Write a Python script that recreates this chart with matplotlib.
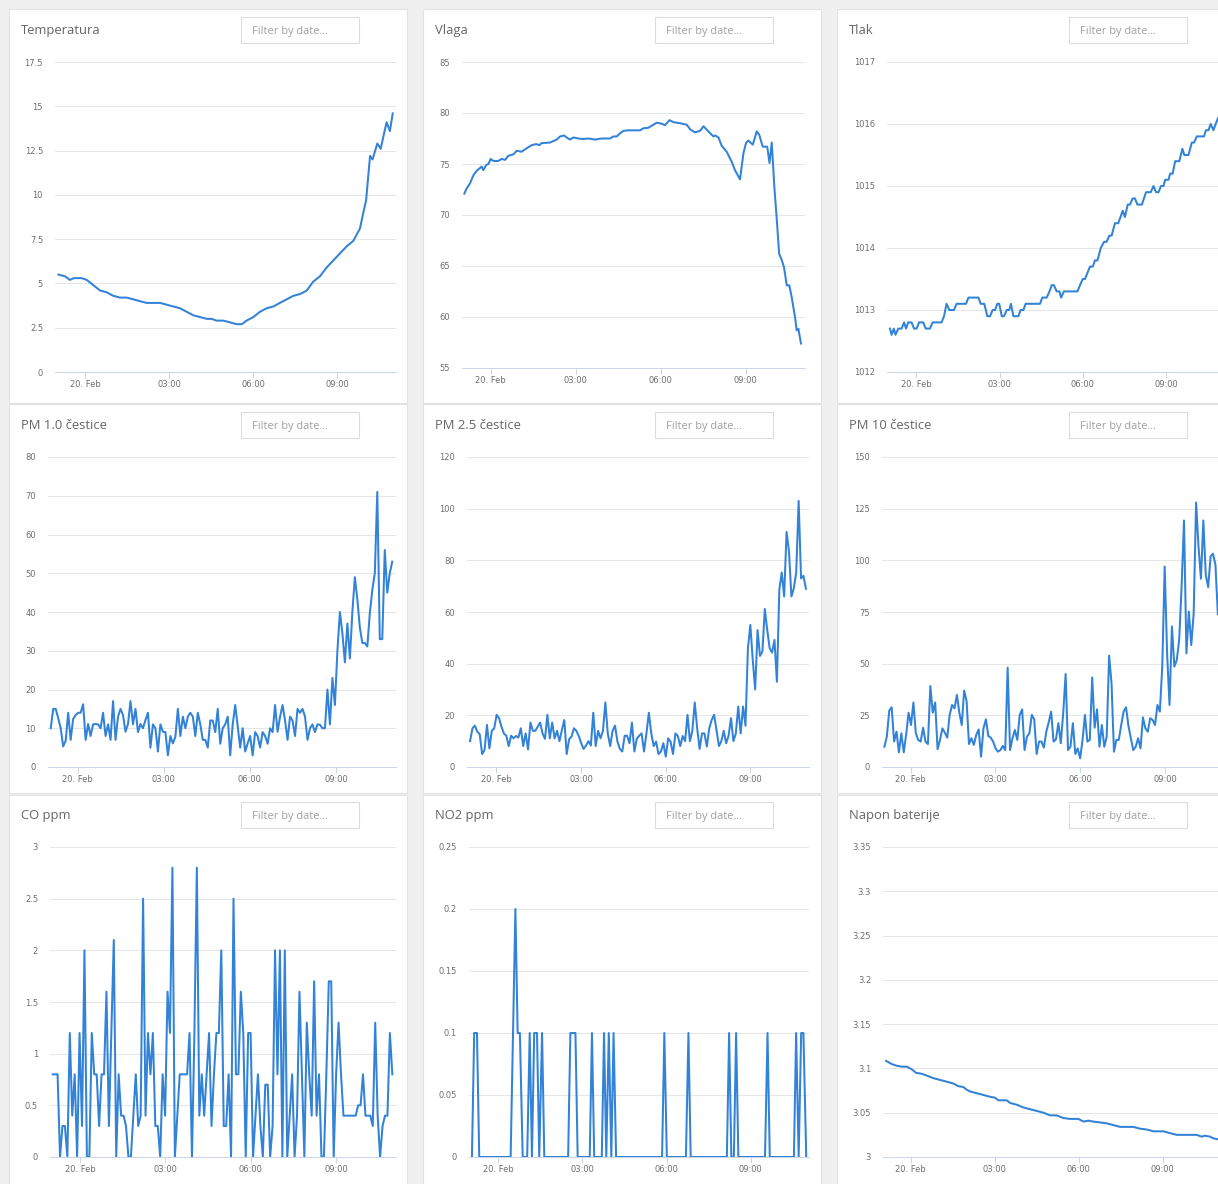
import numpy as np
import matplotlib
matplotlib.use("Agg")
import matplotlib.pyplot as plt
from matplotlib.patches import Rectangle
from matplotlib.ticker import FuncFormatter

# ---------------- data (hours relative to 20 Feb 00:00) ----------------
tick_hours = [0, 3, 6, 9]
tick_labels = ["20. Feb", "03:00", "06:00", "09:00"]

temp_hours = [-0.95, -0.71, -0.54, -0.39, -0.12, 0.06, 0.30, 0.54, 0.77, 1.01,
              1.25, 1.49, 1.73, 1.96, 2.20, 2.68, 2.92, 3.15, 3.39, 3.63,
              3.87, 4.11, 4.35, 4.52, 4.70, 4.94, 5.18, 5.42, 5.60, 5.77,
              6.01, 6.25, 6.49, 6.73, 6.96, 7.20, 7.44, 7.68, 7.92, 8.15,
              8.39, 8.63, 8.87, 9.11, 9.35, 9.58, 9.82, 9.94, 10.04, 10.18,
              10.27, 10.44, 10.56, 10.77, 10.89, 10.99]
temp_values = [5.5, 5.4, 5.2, 5.3, 5.3, 5.2, 4.9, 4.6, 4.5, 4.3,
               4.2, 4.2, 4.1, 4.0, 3.9, 3.9, 3.8, 3.7, 3.6, 3.4,
               3.2, 3.1, 3.0, 3.0, 2.9, 2.9, 2.8, 2.7, 2.7, 2.9,
               3.1, 3.4, 3.6, 3.7, 3.9, 4.1, 4.3, 4.4, 4.6, 5.1,
               5.4, 5.9, 6.3, 6.7, 7.1, 7.4, 8.1, 9.0, 9.7, 12.2,
               12.0, 12.9, 12.6, 14.1, 13.6, 14.6]

hum_hours = [-0.93, -0.85, -0.73, -0.61, -0.49, -0.38, -0.32, -0.26, -0.16, -0.08,
             0.00, 0.09, 0.27, 0.39, 0.51, 0.62, 0.80, 0.92, 1.09, 1.27,
             1.45, 1.60, 1.72, 1.80, 2.09, 2.33, 2.45, 2.59, 2.68, 2.80,
             2.92, 3.09, 3.27, 3.45, 3.68, 3.92, 4.21, 4.33, 4.45, 4.56,
             4.68, 4.86, 4.98, 5.27, 5.39, 5.56, 5.68, 5.86, 6.04, 6.15,
             6.31, 6.45, 6.68, 6.92, 7.04, 7.21, 7.39, 7.51, 7.68, 7.86,
             7.92, 8.04, 8.15, 8.33, 8.51, 8.62, 8.80, 8.92, 9.01, 9.09,
             9.25, 9.39, 9.48, 9.60, 9.76, 9.84, 9.92, 10.01, 10.09, 10.18,
             10.27, 10.35, 10.45, 10.54, 10.62, 10.74, 10.80, 10.86, 10.95]
hum_values = [72.1, 72.6, 73.1, 73.9, 74.35, 74.6, 74.75, 74.4, 74.9, 75.0,
              75.5, 75.3, 75.3, 75.5, 75.4, 75.8, 75.95, 76.3, 76.2, 76.55,
              76.85, 76.95, 76.85, 77.05, 77.1, 77.4, 77.7, 77.8, 77.6, 77.4,
              77.6, 77.5, 77.45, 77.5, 77.4, 77.5, 77.5, 77.7, 77.7, 78.0,
              78.25, 78.3, 78.3, 78.3, 78.5, 78.55, 78.75, 79.05, 78.95, 78.8,
              79.3, 79.1, 79.0, 78.85, 78.4, 78.1, 78.25, 78.7, 78.2, 77.7,
              77.8, 77.6, 76.8, 76.2, 75.2, 74.4, 73.5, 76.05, 77.05, 77.3,
              76.9, 78.2, 77.85, 76.7, 76.7, 75.1, 77.1, 72.8, 69.85, 66.2,
              65.6, 64.9, 63.1, 63.1, 62.0, 60.0, 58.7, 58.85, 57.4]

pres_hours = [-0.95, -0.89, -0.81, -0.75, -0.65, -0.53, -0.44, -0.37, -0.29, -0.17,
              -0.08, 0.01, 0.10, 0.25, 0.34, 0.49, 0.59, 0.91, 1.00, 1.09,
              1.19, 1.36, 1.45, 1.79, 1.88, 2.24, 2.32, 2.45, 2.56, 2.66,
              2.75, 2.84, 2.92, 2.99, 3.08, 3.16, 3.26, 3.35, 3.41, 3.50,
              3.68, 3.76, 3.86, 3.94, 4.46, 4.54, 4.70, 4.80, 4.88, 4.96,
              5.06, 5.16, 5.22, 5.32, 5.81, 5.90, 6.00, 6.08, 6.26, 6.36,
              6.44, 6.53, 6.65, 6.77, 6.86, 6.96, 7.04, 7.16, 7.28, 7.44,
              7.52, 7.62, 7.70, 7.80, 7.88, 7.97, 8.13, 8.28, 8.45, 8.55,
              8.64, 8.73, 8.82, 8.91, 8.97, 9.09, 9.15, 9.24, 9.33, 9.48,
              9.59, 9.66, 9.81, 9.93, 10.01, 10.11, 10.37, 10.44, 10.53, 10.61,
              10.71, 10.79, 10.88]
pres_values = [1012.7, 1012.6, 1012.7, 1012.6, 1012.7, 1012.7, 1012.8, 1012.7, 1012.8, 1012.8,
               1012.7, 1012.7, 1012.8, 1012.8, 1012.7, 1012.7, 1012.8, 1012.8, 1012.9, 1013.1,
               1013.0, 1013.0, 1013.1, 1013.1, 1013.2, 1013.2, 1013.1, 1013.1, 1012.9, 1012.9,
               1013.0, 1013.0, 1013.1, 1013.1, 1012.9, 1012.9, 1013.0, 1013.0, 1013.1, 1012.9,
               1012.9, 1013.0, 1013.0, 1013.1, 1013.1, 1013.2, 1013.2, 1013.3, 1013.4, 1013.4,
               1013.3, 1013.3, 1013.2, 1013.3, 1013.3, 1013.4, 1013.5, 1013.5, 1013.7, 1013.7,
               1013.8, 1013.8, 1014.0, 1014.1, 1014.1, 1014.2, 1014.2, 1014.4, 1014.4, 1014.6,
               1014.5, 1014.7, 1014.7, 1014.8, 1014.8, 1014.7, 1014.7, 1014.9, 1014.9, 1015.0,
               1014.9, 1014.9, 1015.0, 1015.0, 1015.1, 1015.1, 1015.2, 1015.2, 1015.4, 1015.4,
               1015.6, 1015.5, 1015.5, 1015.7, 1015.7, 1015.8, 1015.8, 1015.9, 1015.9, 1016.0,
               1015.9, 1016.0, 1016.1]

pm1_span = (-0.94, 10.96)
pm1_values = [10, 15, 15, 12.6, 10, 5.3, 6.8, 14, 7, 12.4,
              13.4, 14, 14, 16.2, 7, 11.1, 8, 11, 11.1, 11,
              10, 14, 8, 11, 7, 17, 7, 13, 15, 13.4,
              9.1, 11.1, 17, 11, 15, 9, 11.1, 10, 12.1, 14,
              5, 11, 10, 4, 11, 9.1, 9, 3, 8, 6.1,
              7.8, 15, 8, 13, 10, 13, 14, 13, 8, 14,
              11, 7, 7, 5, 12, 12, 9, 15, 6, 10,
              11, 13, 3, 11, 16, 10.4, 5, 10, 4, 6.1,
              8, 3, 9, 8, 5, 9, 8, 6, 10, 9,
              16, 9.1, 13, 16, 12, 7, 13, 12, 8, 15,
              14, 15, 13, 7, 10, 11, 9, 11, 10.9, 10,
              10, 20, 11, 23, 16, 30, 40, 34.5, 27, 37,
              28, 40, 49, 43.2, 36, 32, 32, 31.1, 39.7, 45.7,
              50, 71, 33, 33, 56, 45, 50, 53]

pm25_span = (-0.93, 10.97)
pm25_values = [10, 15, 16, 13.7, 12.7, 5, 6.6, 16.3, 7.2, 14,
               15, 20.2, 18.9, 15.6, 13, 12.1, 8.1, 12.1, 11.1, 12,
               11.4, 15, 8.1, 13, 6.8, 17.2, 14, 14, 15.6, 17.2,
               13, 10.9, 20.2, 11.1, 17.2, 11.1, 14, 10, 14.3, 18.2,
               5, 10.7, 11.8, 15, 14, 12, 9.2, 7, 8.3, 10,
               8.3, 21, 8.1, 14, 11.1, 14, 25, 13, 8.1, 14,
               16, 9.8, 7, 6, 12.1, 12.1, 9.2, 17.2, 6, 10.9,
               12.1, 13, 6, 13, 21, 13, 8.1, 9.8, 5, 6,
               9.2, 4, 11.1, 9.8, 5, 13, 12, 8.1, 12, 10,
               20.2, 10, 14, 25, 15, 7, 13, 13, 7.9, 15,
               18.2, 20.2, 14.3, 8.1, 10, 14, 9.2, 12.1, 18.9, 10,
               13, 23.4, 13, 23.4, 16, 46, 55, 41.5, 30, 53,
               43, 44.7, 61.2, 53, 46, 44.3, 49.2, 33, 68.6, 75.3,
               66, 91, 83.5, 66, 69.2, 75.4, 103, 73, 74, 69]

pm10_span = (-0.93, 10.87)
pm10_values = [9.8, 14.7, 27.3, 28.9, 12.3, 17.1, 7.1, 16.3, 7.1, 15.8,
               26.3, 20.3, 31.2, 16.3, 13.1, 12.3, 19, 12.3, 11.1, 39.2,
               26.3, 31.2, 8.6, 13.1, 18.7, 16.6, 14.2, 25.2, 30, 28.4,
               34.9, 26.3, 20.3, 37, 32, 11.1, 13.9, 10.7, 15.5, 18.2,
               5, 18.7, 23.1, 15, 14.2, 12.3, 9, 7.4, 8.2, 10.2,
               8.2, 48.1, 8.2, 13.9, 17.9, 13.1, 25.2, 27.9, 8.2, 14.7,
               16.3, 25.2, 23.1, 6.3, 12.3, 12.3, 9.4, 17.1, 21.6, 26.8,
               12.3, 13.4, 21.2, 11.5, 26, 45, 8.2, 9.8, 21.2, 6.3,
               9, 4.2, 13.1, 25.2, 12.3, 13.1, 43.3, 19, 27.9, 9.8,
               20.3, 9.8, 14.7, 53.9, 40.5, 7.4, 13.1, 13.1, 20.3, 26.8,
               28.9, 19.9, 13.9, 8.2, 9.8, 13.9, 9, 24, 18.7, 17.1,
               23.6, 22.8, 20.3, 30, 26.8, 48.6, 97, 55, 30, 68,
               48.6, 51.8, 61.5, 87.4, 119.3, 55, 75.2, 59, 74.4, 128,
               106.7, 91.1, 119.3, 93, 87, 101.9, 103.2, 97.9, 74]

co_span = (-0.96, 10.98)
co_values = [0.8, 0.8, 0.8, 0, 0.3, 0.3, 0, 1.2, 0.4, 0.8,
             0, 1.2, 0.3, 2.0, 0, 0, 1.2, 0.8, 0.8, 0.3,
             0.8, 0.8, 1.6, 0.3, 1.2, 2.1, 0, 0.8, 0.4, 0.4,
             0.3, 0, 0, 0.4, 0.8, 0.3, 0.4, 2.5, 0.4, 1.2,
             0.8, 1.2, 0.3, 0.3, 0, 0.8, 0.4, 1.6, 1.2, 2.8,
             0, 0.4, 0.8, 0.8, 0.8, 0.8, 1.2, 0, 1.2, 2.8,
             0.4, 0.8, 0.4, 0.8, 1.2, 0.3, 0.8, 1.2, 1.2, 2.0,
             0.3, 0.3, 0.8, 0, 2.5, 0.8, 0.8, 1.6, 1.2, 0,
             1.2, 1.2, 0, 0.4, 0.8, 0.3, 0, 0.7, 0.7, 0,
             0.3, 2.0, 0.8, 2.0, 0, 2.0, 0, 0.4, 0.8, 0,
             0.4, 1.6, 0.8, 0, 1.3, 0.8, 0.4, 1.7, 0.4, 0.8,
             0, 0, 0.8, 1.7, 1.7, 0, 0.8, 1.3, 0.8, 0.4,
             0.4, 0.4, 0.4, 0.4, 0.4, 0.5, 0.5, 0.8, 0.4, 0.4,
             0.4, 0.3, 1.3, 0.4, 0, 0.3, 0.4, 0.4, 1.2, 0.8]

no2_hours = [-0.94, -0.86, -0.76, -0.68, 0.44, 0.61, 0.69, 0.77, 0.87, 1.03,
             1.12, 1.20, 1.28, 1.38, 1.46, 1.56, 1.64, 2.49, 2.57, 2.75,
             2.83, 3.26, 3.34, 3.42, 3.69, 3.77, 3.85, 3.94, 4.03, 4.11,
             4.20, 5.84, 5.92, 6.01, 6.69, 6.78, 6.86, 8.15, 8.23, 8.31,
             8.40, 8.48, 8.56, 9.51, 9.60, 9.68, 10.54, 10.62, 10.71, 10.80,
             10.88, 10.98]
no2_values = [0, 0.1, 0.1, 0, 0, 0.2, 0.1, 0.1, 0, 0,
              0.1, 0, 0.1, 0.1, 0, 0.1, 0, 0, 0.1, 0.1,
              0, 0, 0.1, 0, 0, 0.1, 0, 0.1, 0, 0.1,
              0, 0, 0.1, 0, 0, 0.1, 0, 0, 0.1, 0,
              0, 0.1, 0, 0, 0.1, 0, 0, 0.1, 0, 0.1,
              0.1, 0]

bat_hours = [-0.88, -0.68, -0.50, -0.32, -0.14, 0.04, 0.19, 0.39, 0.57, 0.81,
             1.05, 1.29, 1.52, 1.70, 1.88, 2.00, 2.12, 2.36, 2.60, 2.83,
             3.01, 3.13, 3.43, 3.55, 3.79, 4.02, 4.26, 4.50, 4.74, 4.98,
             5.21, 5.45, 5.69, 5.99, 6.17, 6.35, 6.52, 6.76, 7.00, 7.24,
             7.48, 7.71, 7.95, 8.19, 8.43, 8.67, 9.02, 9.26, 9.50, 9.74,
             9.98, 10.21, 10.39, 10.51, 10.69, 10.81, 10.98]
bat_values = [3.1085, 3.105, 3.103, 3.102, 3.102, 3.099, 3.095, 3.094, 3.092, 3.089,
              3.087, 3.085, 3.083, 3.080, 3.079, 3.076, 3.074, 3.072, 3.070, 3.068,
              3.067, 3.064, 3.064, 3.061, 3.059, 3.056, 3.054, 3.052, 3.050, 3.047,
              3.047, 3.044, 3.043, 3.043, 3.040, 3.041, 3.040, 3.039, 3.038, 3.036,
              3.034, 3.034, 3.034, 3.032, 3.031, 3.029, 3.029, 3.027, 3.025, 3.025,
              3.025, 3.025, 3.023, 3.024, 3.023, 3.021, 3.020]

titles = ["Temperatura", "Vlaga", "Tlak",
          "PM 1.0 čestice", "PM 2.5 čestice", "PM 10 čestice",
          "CO ppm", "NO2 ppm", "Napon baterije"]
placeholder = "Filter by date..."


def even_hours(span, values):
    return np.linspace(span[0], span[1], len(values))


series = [
    (temp_hours, temp_values),
    (hum_hours, hum_values),
    (pres_hours, pres_values),
    (even_hours(pm1_span, pm1_values), pm1_values),
    (even_hours(pm25_span, pm25_values), pm25_values),
    (even_hours(pm10_span, pm10_values), pm10_values),
    (even_hours(co_span, co_values), co_values),
    (no2_hours, no2_values),
    (bat_hours, bat_values),
]
y_axes = [(0, 17.5, 2.5), (55, 85, 5), (1012, 1017, 1),
          (0, 80, 10), (0, 120, 20), (0, 150, 25),
          (0, 3, 0.5), (0, 0.25, 0.05), (3, 3.35, 0.05)]

# ---------------- layout (pixels) ----------------
W, H = 1218, 1184
# plot area: left, right, top, bottom ; x-pixel of 00:00 and 09:00 ticks
plot_px = [(55, 396, 62, 372, 85.0, 337.0),
           (462, 805, 62, 368, 490.7, 745.7),
           (887, 1226, 62, 372, 916.3, 1166.0),
           (48, 396, 457, 767, 77.7, 336.0),
           (467, 809, 457, 767, 496.3, 750.3),
           (882, 1226, 457, 767, 910.7, 1165.0),
           (50, 396, 847, 1157, 80.0, 336.0),
           (469, 809, 847, 1157, 498.3, 750.7),
           (883, 1226, 847, 1157, 910.7, 1162.7)]
card_x = [(9, 407), (423, 821), (837, 1240)]
card_y = [(9, 403), (404, 793), (795, 1200)]
title_x = [21, 435, 849]
title_base = [34, 429, 819]
box_x = [241, 655, 1069]
box_y = [17, 412, 802]

LINE = "#3282d8"
AXC = "#ccd6eb"
GRID = "#e6e6e6"
LBL = "#666666"
TICKLBL = "#6e6e6e"

fig = plt.figure(figsize=(W / 100, H / 100), dpi=100)
fig.patch.set_facecolor("#f0f0f0")


def fx(x):
    return x / W


def fy(y):
    return 1 - y / H


for (x0, x1) in card_x:
    for (y0, y1) in card_y:
        fig.add_artist(Rectangle((fx(x0), fy(y1)), (x1 - x0) / W, (y1 - y0) / H,
                                 transform=fig.transFigure, facecolor="white",
                                 edgecolor="#e2e2e2", lw=0.8, zorder=-2))

for i in range(9):
    r, c = divmod(i, 3)
    # title
    fig.text(fx(title_x[c]), fy(title_base[r]), titles[i], family="Open Sans",
             fontsize=9.4, color=LBL, va="baseline", ha="left")
    # filter box
    bx, by = box_x[c], box_y[r]
    fig.add_artist(Rectangle((fx(bx), fy(by + 26)), 118 / W, 26 / H,
                             transform=fig.transFigure, facecolor="white",
                             edgecolor="#dcdcdc", lw=0.8, zorder=-1))
    fig.text(fx(bx + 10.5), fy(by + 14.3), placeholder, family="Open Sans",
             fontsize=7.9, color="#a0a0a0", va="center", ha="left")

    l, rr, t, b, p0, p9 = plot_px[i]
    ax = fig.add_axes([fx(l), fy(b), (rr - l) / W, (b - t) / H])
    ax.set_facecolor("white")
    pph = (p9 - p0) / 9.0
    ax.set_xlim((l - p0) / pph, (rr - p0) / pph)
    y0, y1, ys = y_axes[i]
    ax.set_ylim(y0, y1)
    yt = np.round(np.arange(y0, y1 + ys / 2, ys), 4)
    ax.set_yticks(yt)
    ax.yaxis.set_major_formatter(FuncFormatter(lambda v, p: f"{round(v, 4):g}"))
    ax.set_xticks(tick_hours)
    ax.set_xticklabels(tick_labels)
    for s in ("top", "left", "right"):
        ax.spines[s].set_visible(False)
    ax.spines["bottom"].set_color(AXC)
    ax.spines["bottom"].set_linewidth(0.75)
    ax.yaxis.grid(True, color=GRID, lw=0.75)
    ax.set_axisbelow(True)
    ax.tick_params(axis="y", length=0, pad=8.6, labelsize=6, labelcolor=TICKLBL)
    ax.tick_params(axis="x", length=4.3, width=0.75, color=AXC, pad=1.5,
                   labelsize=6, labelcolor=TICKLBL)
    hx, hv = series[i]
    ax.plot(hx, hv, color=LINE, lw=1.45, solid_joinstyle="round", zorder=3)

fig.savefig("out.png", dpi=100, facecolor=fig.get_facecolor())
